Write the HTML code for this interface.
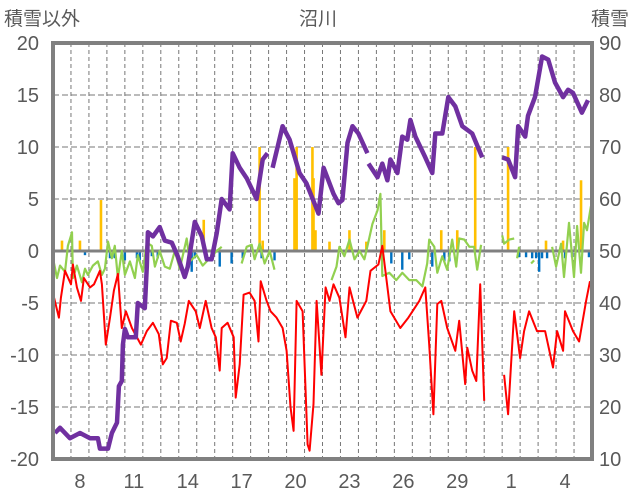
<!DOCTYPE html>
<html><head><meta charset="utf-8"><style>
body{margin:0;background:#fff;width:636px;height:501px;overflow:hidden}
svg{display:block}
text{font-family:"Liberation Sans","Noto Sans CJK JP",sans-serif;fill:#595959}
</style></head><body>
<svg id="chart" width="636" height="501" xmlns="http://www.w3.org/2000/svg"></svg>
<script>
const dayLabels=["8","11","14","17","20","23","26","29","1","4"];
const leftTicks=[20,15,10,5,0,-5,-10,-15,-20];
const rightTicks=[90,80,70,60,50,40,30,20,10];
const snowT=[0.11,0.39,0.94,1.5,2.06,2.5,2.61,3.06,3.28,3.56,3.67,3.83,3.89,4.0,4.17,4.61,4.72,5.11,5.22,5.28,5.56,5.94,6.22,6.61,6.94,7.33,7.5,7.89,8.28,8.56,8.83,9.11,9.39,9.83,10.0,10.39,10.78,11.33,11.67,11.94,12.1,12.22,12.78,13.17,13.72,14.11,14.78,15.06,15.61,15.89,16.11,16.39,16.67,17.0,17.5,17.53,17.56,18.06,18.33,18.61,18.78,19.17,19.44,19.72,19.89,20.17,20.72,21.11,21.28,21.67,22.0,22.39,22.78,23.33,23.89,24.4,25.0,25.33,25.72,25.89,26.28,26.44,26.83,27.22,27.56,27.94,28.39,28.67,28.94,29.44,29.78];
const snowV=[15,16,14,15,14,14,12,12,15,17,24,25,32,35,33.4,33.4,40,39,47,53.6,52.8,54.6,52,51.6,49,45,47,55.6,52.8,48.4,48.4,53.4,60,58,68.8,66,64,60,67.6,68.8,null,66,74,71.4,65,63,57.2,66,61,59.2,59.8,70.8,74,72.6,68.8,null,66.8,64.2,66.8,63.6,67.6,65,72,71.4,75.2,72,68,65,72.6,72.6,79.6,77.8,74,72.6,68,null,68,67.6,64.2,74,72,76,79.6,87.4,86.8,82.4,79.6,81,80.4,76.6,79];
const tempT=[0.06,0.33,0.44,0.67,1.0,1.11,1.33,1.56,1.72,2.06,2.28,2.61,2.72,2.94,3.17,3.39,3.61,3.83,4.06,4.39,4.89,5.22,5.56,5.89,6.11,6.33,6.56,6.89,7.11,7.33,7.56,7.94,8.17,8.5,8.83,9.06,9.28,9.39,9.72,10.06,10.17,10.39,10.61,10.94,11.22,11.44,11.56,11.89,12.11,12.44,12.78,13.0,13.22,13.39,13.56,13.89,14.17,14.28,14.5,14.67,14.94,15.17,15.39,15.61,15.94,16.28,16.5,16.94,17.44,17.67,18.11,18.33,18.78,19.33,19.78,20.39,20.72,20.94,21.17,21.39,21.61,21.94,22.39,22.61,22.94,23.06,23.33,23.56,23.78,24.0,24.5,25.11,25.33,25.67,26.0,26.22,26.5,26.94,27.39,27.83,28.06,28.39,28.5,28.94,29.28,29.67,29.89];
const tempV=[-4.5,-6.4,-4.5,-1.9,-3.2,-1.3,-3.5,-4.8,-2.6,-3.5,-3.2,-1.9,-3.2,-9,-6.4,-3.8,-2.2,-7.4,-5.8,-7.4,-9,-7.7,-6.9,-8,-10.9,-10.3,-6.7,-6.9,-8.7,-7,-4.8,-5.8,-7.4,-4.8,-7.4,-8.3,-11.5,-7.4,-6.9,-8.3,-14.1,-10.9,-4.2,-4,-4.8,-8.7,-2.9,-4.8,-5.8,-6.4,-7.4,-9.6,-15,-17.3,-4.8,-5.8,-18.6,-19.2,-14.7,-4.8,-11.9,-3.5,-4.8,-3.2,-4.5,-8.3,-3.5,-6.4,-4.8,-1.9,-1.3,0.5,-5.8,-7.4,-6.4,-4.8,-3.5,-9,-15.7,-5.1,-4.8,-7.4,-9.6,-6.7,-12.8,-9.3,-11.5,-12.5,-3.2,-14.4,null,-11.9,-15.7,-5.8,-10.3,-7.7,-5.8,-7.7,-7.7,-11.2,-7.7,-9.6,-5.8,-7.7,-8.7,-4.8,-2.9];
const greenT=[0,0.22,0.39,0.67,0.83,1.06,1.11,1.33,1.61,1.78,1.94,2.22,2.5,2.72,2.89,3.06,3.28,3.44,3.61,3.83,4.0,4.28,4.56,4.72,5.0,5.22,5.5,5.67,5.94,6.22,6.5,6.78,7.06,7.44,7.61,8.0,8.33,8.72,9.11,9.39,10.0,10.5,10.78,11.06,11.22,11.5,11.78,12.06,12.33,14.0,15.5,15.78,15.94,16.22,16.5,16.78,17.06,17.33,17.61,17.78,18.06,18.22,18.33,18.72,19.11,19.44,19.83,20.22,20.56,20.83,20.94,21.22,21.39,21.67,21.94,22.22,22.44,22.61,22.89,23.17,23.44,23.61,23.83,24.4,25.0,25.11,25.39,25.67,25.75,25.83,25.94,26.3,26.61,26.78,27.3,27.78,28.0,28.28,28.44,28.72,29.0,29.17,29.39,29.56,29.72,29.94];
const greenV=[-0.7,-2.6,-1.4,-2,0.5,1.8,-2.6,-1.4,-3,-1.7,-2.3,-1.4,-1,-2.3,-1.7,0.9,-0.7,0.5,-2.6,0,-2.3,-1,-2.6,-0.4,-2,0.8,0.5,-1.5,0,-1.5,-1.7,0,-1.7,1.2,-1,-0.4,-1.4,-0.7,0,0.4,null,-1.2,0.4,0.6,-0.8,0.7,-1.2,0,-1.8,null,-2.8,-1.5,0.4,-0.5,1.1,-0.8,0,-0.8,1.3,2.6,3.9,5.5,-2.4,-2.1,-2.8,-2.1,-2.8,-2.8,-3.4,-1.2,1.1,0.4,-2.1,-0.5,-1.8,1.1,-1.5,1.2,1.1,0.4,0.4,-1.8,0.6,null,1.5,0.7,1.1,1.2,null,-0.7,0.4,null,-1.2,-0.9,null,0.4,-1.5,0.7,-2.5,2.7,-2.5,2.4,-2.1,2.7,2,4.3];
const rainT=[0.5,1.5,2.67,8.39,11.5,11.67,13.44,13.56,14.44,14.5,14.61,15.39,16.5,17.44,18.44,21.61,22.5,23.5,25.33,27.44,28.39,29.39];
const rainV=[1,1,4.9,3,10,1,7,10,10,7,2,0.9,2,0.9,2,2,2,10,10,1,1,6.8];
const meltT=[1.78,3.17,3.44,3.83,4.0,4.67,4.83,5.5,5.83,7.72,7.89,9.28,9.94,10.56,11.61,12.33,18.83,19.44,19.83,21.11,21.78,22.06,25.94,26.33,26.67,26.89,27.06,27.22,27.5,28.5,28.89,29.83];
const meltV=[-0.4,-0.7,-0.7,-0.7,-0.9,-0.7,-0.9,-0.5,-0.7,-2,-0.7,-1.5,-1.2,-0.7,-0.7,-0.9,-1.2,-1.8,-0.8,-1.5,-1,-1,-0.6,-0.6,-0.7,-0.7,-2,-0.7,-0.7,-0.7,-0.6,-0.6];

const X0=53,X1=592,Y0=43,Y1=459,DAYS=30;
const xs=t=>X0+t/DAYS*(X1-X0);
const yl=v=>Y1-(v+20)/40*(Y1-Y0);
const yr=v=>Y1-(v-10)/80*(Y1-Y0);
const svg=document.getElementById('chart');
const NS="http://www.w3.org/2000/svg";
function mk(tag,attrs,parent){const e=document.createElementNS(NS,tag);for(const k in attrs)e.setAttribute(k,attrs[k]);(parent||svg).appendChild(e);return e;}

// grid
for(let d=1;d<DAYS;d++){const g=mk('line',{x1:xs(d),x2:xs(d),y1:Y0,y2:Y1,stroke:'#777','stroke-width':1,'stroke-dasharray':'4,3'});

}
leftTicks.forEach(v=>{if(v===20||v===-20||v===0)return;const g=mk('line',{x1:X0,x2:X1,y1:yl(v),y2:yl(v),stroke:'#777','stroke-width':1,'stroke-dasharray':'6,3'});

});
// melt bars (blue)
meltT.forEach((t,i)=>{const b=mk('rect',{x:xs(t)-1.2,y:yl(0),width:2.4,height:yl(meltV[i])-yl(0),fill:'#0070C0'});

});
// zero line
const z=mk('line',{x1:X0,x2:X1,y1:yl(0),y2:yl(0),stroke:'#808080','stroke-width':3});


// rain bars (yellow)
rainT.forEach((t,i)=>{const b=mk('rect',{x:xs(t)-1.3,y:yl(rainV[i]),width:2.6,height:yl(0)-1.5-yl(rainV[i]),fill:'#FFC000'});

});
function pathFor(T,V,fy){let d='',pen=false;T.forEach((t,i)=>{const v=V[i];if(v===null){pen=false;return;}d+=(pen?'L':'M')+xs(t).toFixed(1)+','+fy(v).toFixed(1);pen=true;});return d;}
const g1=mk('path',{d:pathFor(greenT,greenV,yl),fill:'none',stroke:'#92D050','stroke-width':2.2,'stroke-linejoin':'round'});


const r1=mk('path',{d:pathFor(tempT,tempV,yl),fill:'none',stroke:'#FF0000','stroke-width':2,'stroke-linejoin':'round'});


const p1=mk('path',{d:pathFor(snowT,snowV,yr),fill:'none',stroke:'#7030A0','stroke-width':4.5,'stroke-linejoin':'round'});


// frame
const f=mk('rect',{x:X0,y:Y0,width:X1-X0,height:Y1-Y0,fill:'none',stroke:'#808080','stroke-width':4});


// ticks
leftTicks.forEach(v=>{const t=mk('text',{x:39,y:yl(v)+7,'text-anchor':'end','font-size':20});t.textContent=v;

});
rightTicks.forEach(v=>{const t=mk('text',{x:599,y:yr(v)+7,'font-size':20});t.textContent=v;

});
dayLabels.forEach((s,i)=>{const t=mk('text',{x:xs(1.5+3*i),y:488,'text-anchor':'middle','font-size':20});t.textContent=s;

});
const t1=mk('text',{x:4,y:25,'font-size':19});t1.textContent='積雪以外';


const t2=mk('text',{x:318,y:25,'font-size':19,'text-anchor':'middle'});t2.textContent='沼川';


const t3=mk('text',{x:591,y:25,'font-size':19});t3.textContent='積雪';


</script>
</body></html>
